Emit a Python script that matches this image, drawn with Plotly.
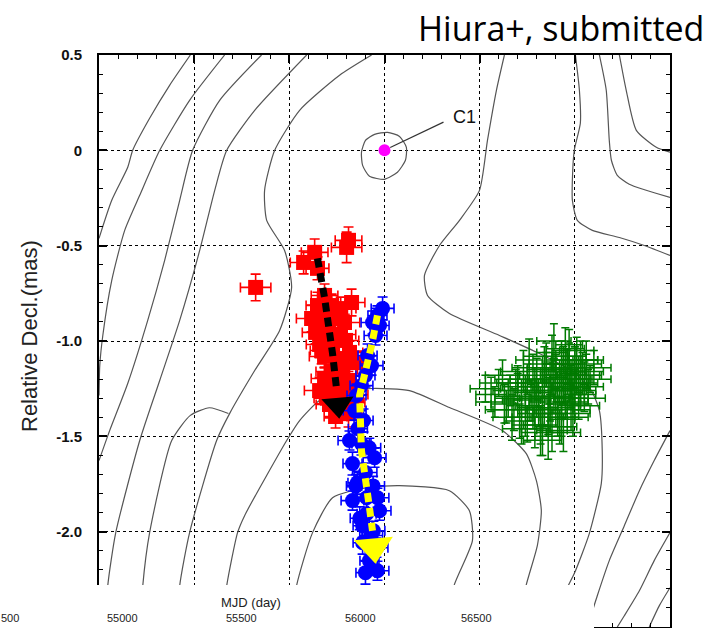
import plotly.graph_objects as go

# ---------------- data (mas) ----------------
red_x = [-0.677, -0.425, -0.367, -0.352, -0.199, -0.189, -0.173,
         -0.315, -0.352, -0.278, -0.383, -0.320, -0.257, -0.210, -0.362, -0.294, -0.231,
         -0.341, -0.273, -0.205, -0.315, -0.247, -0.184, -0.220, -0.142,
         -0.315, -0.247, -0.184, -0.341, -0.273, -0.205, -0.147, -0.289, -0.236, -0.173, -0.257, -0.189,
         -0.300, -0.230, -0.330, -0.190, -0.280, -0.300, -0.200, -0.260]
red_y = [-0.719, -0.588, -0.535, -0.619, -0.509, -0.472, -0.798,
         -0.761, -0.814, -0.814, -0.882, -0.882, -0.882, -0.903, -0.955, -0.945, -0.966,
         -1.018, -1.029, -0.997, -1.081, -1.092, -1.060, -1.144, -1.113,
         -1.197, -1.176, -1.207, -1.260, -1.270, -1.260, -1.281, -1.333, -1.344, -1.323, -1.396, -1.381,
         -0.840, -0.830, -1.050, -1.100, -1.160, -1.300, -1.340, -1.230]
red_ex = [0.08, 0.07, 0.07, 0.06, 0.08, 0.07, 0.07,
          0.07, 0.06, 0.07, 0.08, 0.06, 0.07, 0.08, 0.07, 0.06, 0.08,
          0.07, 0.06, 0.07, 0.08, 0.06, 0.07, 0.07, 0.06,
          0.07, 0.06, 0.07, 0.08, 0.06, 0.07, 0.06, 0.07, 0.06, 0.07, 0.06, 0.07,
          0.07, 0.08, 0.06, 0.07, 0.08, 0.07, 0.06, 0.07]
red_ey = [0.07, 0.06, 0.07, 0.06, 0.08, 0.07, 0.07,
          0.06, 0.07, 0.06, 0.07, 0.08, 0.06, 0.07, 0.06, 0.07, 0.06,
          0.07, 0.06, 0.07, 0.06, 0.07, 0.06, 0.07, 0.06,
          0.06, 0.07, 0.06, 0.07, 0.06, 0.07, 0.06, 0.07, 0.06, 0.07, 0.06, 0.07,
          0.07, 0.06, 0.07, 0.06, 0.07, 0.06, 0.07, 0.06]

blue_x = [-0.010, -0.037, -0.063, -0.026, -0.047, -0.089, -0.068, -0.100, -0.121, -0.147,
          -0.157, -0.110, -0.184, -0.121, -0.052, -0.168, -0.100, -0.142, -0.168, -0.094,
          -0.037, -0.094, -0.026, -0.115, -0.058, -0.115, -0.042, -0.079, -0.037, -0.100,
          -0.140, -0.080, -0.150, -0.060, -0.130, -0.070]
blue_y = [-0.829, -0.866, -0.903, -0.919, -0.971, -1.076, -1.129, -1.181, -1.234, -1.286,
          -1.365, -1.417, -1.522, -1.538, -1.612, -1.643, -1.690, -1.743, -1.837, -1.822,
          -1.822, -1.906, -1.890, -1.969, -1.995, -2.058, -2.084, -2.152, -2.205, -2.215,
          -1.460, -1.560, -1.760, -1.760, -1.930, -2.020]
blue_ex = [0.06, 0.05, 0.06, 0.05, 0.06, 0.05, 0.06, 0.05, 0.06, 0.05,
           0.06, 0.05, 0.06, 0.05, 0.06, 0.05, 0.06, 0.05, 0.06, 0.05,
           0.06, 0.05, 0.06, 0.05, 0.06, 0.05, 0.06, 0.05, 0.06, 0.05,
           0.05, 0.06, 0.05, 0.06, 0.05, 0.06]
blue_ey = [0.06, 0.05, 0.06, 0.05, 0.05, 0.06, 0.05, 0.06, 0.05, 0.06,
           0.05, 0.06, 0.05, 0.06, 0.05, 0.06, 0.05, 0.06, 0.05, 0.06,
           0.05, 0.06, 0.05, 0.06, 0.05, 0.06, 0.05, 0.06, 0.05, 0.06,
           0.06, 0.05, 0.06, 0.05, 0.06, 0.05]

green_x = [0.56, 0.60, 0.63, 0.66, 0.68, 0.70, 0.72, 0.74, 0.75, 0.77, 0.78, 0.80, 0.81, 0.82,
           0.83, 0.84, 0.85, 0.86, 0.87, 0.88, 0.88, 0.89, 0.90, 0.90, 0.91, 0.92, 0.93, 0.93,
           0.94, 0.95, 0.95, 0.96, 0.97, 0.97, 0.98, 0.99, 1.00, 1.00, 1.01, 1.02, 1.03, 1.04,
           1.05, 1.06, 1.08, 0.79, 0.83, 0.86, 0.92, 0.96, 0.99, 0.72, 0.76, 0.89, 1.02,
           0.62, 0.65, 0.69, 0.71, 0.73, 0.76, 0.79, 0.81, 0.84, 0.87, 0.89, 0.91, 0.94, 0.96,
           0.98, 1.01, 1.03, 1.05, 1.07, 0.67, 0.74, 0.80, 0.85, 0.90, 0.95, 1.00, 1.04, 0.78,
           0.88, 0.93, 0.97, 1.02, 0.70, 0.83, 0.87, 0.99, 1.06, 0.64, 0.75, 0.82, 0.92, 0.94,
           1.00, 0.86, 0.98, 0.53, 0.58, 1.10]
green_y = [-1.28, -1.22, -1.33, -1.26, -1.36, -1.24, -1.31, -1.40, -1.20, -1.29, -1.35, -1.18,
           -1.27, -1.44, -1.22, -1.32, -1.15, -1.26, -1.38, -1.20, -1.47, -1.29, -1.12, -1.35,
           -1.24, -1.18, -1.30, -1.41, -1.10, -1.22, -1.33, -1.16, -1.26, -1.08, -1.20, -1.30,
           -1.14, -1.24, -1.05, -1.18, -1.28, -1.12, -1.22, -1.16, -1.20, -1.46, -1.52, -1.50,
           -1.45, -1.38, -1.40, -1.46, -1.10, -1.00, -1.34,
           -1.18, -1.30, -1.22, -1.42, -1.16, -1.34, -1.24, -1.38, -1.12, -1.30, -1.18, -1.40,
           -1.26, -1.14, -1.36, -1.20, -1.10, -1.30, -1.24, -1.40, -1.26, -1.30, -1.08, -1.16,
           -1.04, -1.32, -1.18, -1.14, -1.06, -1.12, -1.02, -1.26, -1.20, -1.36, -1.22, -1.16,
           -1.10, -1.36, -1.44, -1.48, -1.22, -1.48, -1.10, -1.40, -1.24, -1.25, -1.32, -1.14]
green_ex = [0.08, 0.10, 0.07, 0.09, 0.11, 0.08, 0.10, 0.07, 0.09, 0.12, 0.08, 0.10, 0.07, 0.09,
            0.11, 0.08, 0.10, 0.07, 0.09, 0.12, 0.08, 0.10, 0.07, 0.09, 0.11, 0.08, 0.10, 0.07,
            0.09, 0.12, 0.08, 0.10, 0.07, 0.09, 0.11, 0.08, 0.10, 0.07, 0.09, 0.12, 0.08, 0.10,
            0.07, 0.09, 0.11, 0.08, 0.10, 0.07, 0.09, 0.12, 0.08, 0.10, 0.07, 0.09, 0.11,
            0.09, 0.07, 0.10, 0.08, 0.12, 0.07, 0.09, 0.11, 0.08, 0.10, 0.07, 0.09, 0.12, 0.08,
            0.10, 0.07, 0.09, 0.11, 0.08, 0.10, 0.07, 0.09, 0.12, 0.08, 0.10, 0.07, 0.09, 0.11,
            0.08, 0.10, 0.07, 0.09, 0.12, 0.08, 0.10, 0.07, 0.09, 0.11, 0.08, 0.10, 0.07, 0.09,
            0.12, 0.08, 0.10, 0.08, 0.10, 0.09]
green_ey = [0.09, 0.07, 0.10, 0.08, 0.11, 0.07, 0.09, 0.10, 0.08, 0.06, 0.11, 0.09, 0.07, 0.10,
            0.08, 0.12, 0.09, 0.07, 0.10, 0.08, 0.11, 0.09, 0.07, 0.10, 0.08, 0.06, 0.11, 0.09,
            0.07, 0.10, 0.08, 0.12, 0.09, 0.07, 0.10, 0.08, 0.11, 0.09, 0.07, 0.10, 0.08, 0.06,
            0.11, 0.09, 0.07, 0.10, 0.08, 0.12, 0.09, 0.07, 0.10, 0.08, 0.11, 0.09, 0.07,
            0.08, 0.10, 0.07, 0.09, 0.11, 0.08, 0.10, 0.07, 0.09, 0.12, 0.08, 0.10, 0.07, 0.09,
            0.11, 0.08, 0.10, 0.07, 0.09, 0.12, 0.08, 0.10, 0.07, 0.09, 0.11, 0.08, 0.10, 0.07,
            0.09, 0.12, 0.08, 0.10, 0.07, 0.09, 0.11, 0.08, 0.10, 0.07, 0.09, 0.12, 0.08, 0.10,
            0.07, 0.09, 0.11, 0.07, 0.08, 0.09]

# motion arrows (mas)
black_arrow_x = [-0.352, -0.315, -0.273, -0.252]
black_arrow_y = [-0.567, -0.772, -1.066, -1.250]
black_head = (-0.244, -1.335)
yellow_arrow_x = [-0.037, -0.068, -0.131, -0.121, -0.079, -0.063]
yellow_arrow_y = [-0.866, -1.024, -1.286, -1.575, -1.874, -1.995]
yellow_head = (-0.055, -2.080)

c1_pos = (0.0, 0.0)
c1_label_pos = (0.42, 0.175)
c1_leader_x = [0.03, 0.31]
c1_leader_y = [0.015, 0.148]

# contour lines (mas)
contours = {
    "A": ([-1.50, -1.433, -1.349, -1.323, -1.234, -1.129, -1.02],
          [-0.462, -0.262, -0.089, 0.0, 0.168, 0.341, 0.5]),
    "B": ([-1.50, -1.496, -1.480, -1.433, -1.365, -1.286, -1.181, -1.024, -0.840],
          [-1.286, -1.129, -0.971, -0.682, -0.420, -0.236, 0.0, 0.262, 0.5]),
    "C": ([-1.50, -1.444, -1.349, -1.244, -1.155, -1.076, -1.008, -0.866, -0.646],
          [-1.627, -1.470, -1.223, -0.892, -0.577, -0.262, 0.0, 0.262, 0.5]),
    "D": ([-1.465, -1.454, -1.412, -1.286, -1.181, -1.076, -0.971, -0.892, -0.829, -0.682, -0.409],
          [-2.5, -2.283, -2.005, -1.522, -1.207, -0.892, -0.525, -0.210, 0.0, 0.210, 0.5]),
    "D2": ([-1.281, -1.270, -1.234, -1.118, -1.020, -0.920, -0.820],
           [-2.5, -2.283, -2.005, -1.522, -1.390, -1.350, -1.380]),
    "E": ([-1.087, -1.076, -1.024, -0.882, -0.814, -0.682, -0.551, -0.488, -0.525, -0.619, -0.630,
           -0.577, -0.446, -0.236, -0.068],
          [-2.5, -2.283, -2.005, -1.522, -1.381, -1.155, -0.945, -0.719, -0.525, -0.367, -0.210,
           0.0, 0.210, 0.394, 0.5]),
    "F": ([-0.856, -0.829, -0.772, -0.735, -0.514, -0.446, -0.341, -0.184, -0.063, 0.131, 0.341,
           0.619, 0.745, 0.798, 0.824, 0.803, 0.745, 0.698],
          [-2.5, -2.283, -2.005, -1.916, -1.522, -1.417, -1.312, -1.260, -1.249, -1.260, -1.349,
           -1.470, -1.591, -1.732, -1.890, -2.073, -2.278, -2.5]),
    "G": ([-0.488, -0.462, -0.378, -0.273, -0.094, 0.079, 0.341, 0.446, 0.462, 0.367, 0.315],
          [-2.5, -2.283, -2.005, -1.822, -1.769, -1.759, -1.785, -1.890, -2.047, -2.278, -2.5]),
    "H": ([0.630, 0.588, 0.541, 0.499, 0.394, 0.289, 0.210, 0.226, 0.341, 0.604, 0.814, 0.997,
           1.087, 1.129, 1.144, 1.139, 1.076, 0.997, 0.934, 0.882],
          [0.5, 0.315, 0.052, -0.210, -0.367, -0.499, -0.656, -0.761, -0.856, -0.971, -1.066,
           -1.165, -1.260, -1.365, -1.575, -1.748, -2.010, -2.220, -2.346, -2.5]),
    "R1": ([1.003, 1.024, 1.029, 0.997, 0.987, 0.987, 1.013, 1.092, 1.234, 1.365, 1.5],
           [0.5, 0.315, 0.142, 0.0, -0.157, -0.262, -0.367, -0.420, -0.457, -0.499, -0.551]),
    "R2": ([1.129, 1.165, 1.181, 1.192, 1.223, 1.286, 1.5],
           [0.5, 0.315, 0.052, -0.052, -0.131, -0.178, -0.247]),
    "R3": ([1.234, 1.270, 1.323, 1.428, 1.5],
           [0.5, 0.315, 0.105, 0.016, -0.010]),
    "BR1": ([1.5, 1.417, 1.339, 1.260, 1.181, 1.118, 1.066],
            [-1.470, -1.627, -1.785, -1.969, -2.152, -2.336, -2.5]),
    "BR2": ([1.5, 1.417, 1.339, 1.260, 1.223],
            [-2.005, -2.152, -2.310, -2.441, -2.5]),
    "BR3": ([1.5, 1.444, 1.391],
            [-2.294, -2.388, -2.5]),
    "C1": ([-0.121, -0.100, -0.052, 0.016, 0.079, 0.115, 0.110, 0.068, 0.0, -0.079, -0.115, -0.121],
           [-0.010, 0.052, 0.084, 0.094, 0.073, 0.016, -0.052, -0.115, -0.152, -0.136, -0.079, -0.010]),
}

y_tickvals = [0.5, 0.0, -0.5, -1.0, -1.5, -2.0]
y_ticktext = ["0.5", "0", "-0.5", "-1.0", "-1.5", "-2.0"]
strip_ticklabels = ["500", "55000", "55500", "56000", "56500"]
strip_title = "MJD (day)"
y_title = "Relative Decl.(mas)"
credit = "Hiura+, submitted"

# ---------------- figure ----------------
W, H = 712, 628
L, R, T, B = 99, 42, 55, 1
PW, PH = W - L - R, H - T - B


def px(xp):
    return (xp - L) / PW


def py(yp):
    return (H - B - yp) / PH


fig = go.Figure()

for name, (cx, cy) in contours.items():
    fig.add_trace(go.Scatter(x=cx, y=cy, mode="lines",
                             line=dict(color="#555555", width=1.2, shape="spline", smoothing=0.6),
                             hoverinfo="skip", showlegend=False))

fig.add_trace(go.Scatter(x=c1_leader_x, y=c1_leader_y, mode="lines",
                         line=dict(color="#333333", width=1.2), showlegend=False))

fig.add_trace(go.Scatter(
    x=green_x, y=green_y, mode="markers",
    marker=dict(color="#007a00", size=2),
    error_x=dict(type="data", array=green_ex, color="#007a00", thickness=1.5, width=4),
    error_y=dict(type="data", array=green_ey, color="#007a00", thickness=1.5, width=4),
    showlegend=False))

fig.add_trace(go.Scatter(
    x=red_x, y=red_y, mode="markers",
    marker=dict(color="#ff0000", size=15, symbol="square"),
    error_x=dict(type="data", array=red_ex, color="#ff0000", thickness=1.6, width=5),
    error_y=dict(type="data", array=red_ey, color="#ff0000", thickness=1.6, width=5),
    showlegend=False))

fig.add_trace(go.Scatter(
    x=blue_x, y=blue_y, mode="markers",
    marker=dict(color="#0000ff", size=15, symbol="circle"),
    error_x=dict(type="data", array=blue_ex, color="#0000ff", thickness=1.6, width=5),
    error_y=dict(type="data", array=blue_ey, color="#0000ff", thickness=1.6, width=5),
    showlegend=False))

fig.add_trace(go.Scatter(x=black_arrow_x, y=black_arrow_y, mode="lines",
                         line=dict(color="black", width=7, dash="9px,6px"), showlegend=False))
fig.add_trace(go.Scatter(x=[black_head[0]], y=[black_head[1]], mode="markers",
                         marker=dict(symbol="triangle-down", size=28, color="black", angle=-5),
                         showlegend=False))
fig.add_trace(go.Scatter(x=yellow_arrow_x, y=yellow_arrow_y, mode="lines",
                         line=dict(color="#ffff00", width=7, dash="9px,6px"), showlegend=False))
fig.add_trace(go.Scatter(x=[yellow_head[0]], y=[yellow_head[1]], mode="markers",
                         marker=dict(symbol="triangle-down", size=34, color="#ffff00", angle=-5),
                         showlegend=False))

fig.add_trace(go.Scatter(x=[c1_pos[0]], y=[c1_pos[1]], mode="markers",
                         marker=dict(color="#ff00ff", size=12), showlegend=False))

fig.add_annotation(x=c1_label_pos[0], y=c1_label_pos[1], text="C1", showarrow=False,
                   xanchor="center", yanchor="middle",
                   font=dict(family="Liberation Sans, Arial", size=18, color="#111111"))

axis_common = dict(
    showline=True, linecolor="black", linewidth=2, mirror="allticks",
    ticks="inside", ticklen=8, tickwidth=2, tickcolor="black",
    showgrid=True, gridcolor="black", griddash="dot", gridwidth=1.3,
    zeroline=False,
    minor=dict(ticks="inside", ticklen=4, tickwidth=1, tickcolor="black", dtick=0.1, showgrid=False),
)

fig.update_xaxes(range=[-1.5, 1.5], dtick=0.5, tick0=0, showticklabels=False, **axis_common)
fig.update_yaxes(range=[-2.5, 0.5], tickvals=y_tickvals, ticktext=y_ticktext,
                 tickfont=dict(family="Liberation Sans, Arial", size=15, color="#111111", weight="bold"),
                 ticklabelstandoff=12, **axis_common)

fig.update_layout(
    width=W, height=H, margin=dict(l=L, r=R, t=T, b=B),
    plot_bgcolor="white", paper_bgcolor="white", showlegend=False,
)

# overlaid strip (from a different panel) covering the bottom-left
fig.add_shape(type="rect", xref="paper", yref="paper", x0=px(-5), x1=px(594), y0=py(630), y1=py(585),
              fillcolor="white", line=dict(width=0), layer="above")
strip_label_px = [10, 122, 241, 360, 476]
for lab, xp in zip(strip_ticklabels, strip_label_px):
    fig.add_annotation(xref="paper", yref="paper", x=px(xp), y=py(618), text=lab, showarrow=False,
                       xanchor="center", yanchor="middle",
                       font=dict(family="Liberation Sans Narrow, Liberation Sans, Arial", size=11, color="#222222"))
fig.add_annotation(xref="paper", yref="paper", x=px(251), y=py(602), text=strip_title, showarrow=False,
                   xanchor="center", yanchor="middle",
                   font=dict(family="Liberation Sans Narrow, Liberation Sans, Arial", size=13, color="#222222"))

fig.add_annotation(xref="paper", yref="paper", x=px(29), y=py(336), text=y_title, showarrow=False,
                   textangle=-90, xanchor="center", yanchor="middle",
                   font=dict(family="Liberation Sans, Arial", size=22, color="#222222"))

fig.add_annotation(xref="paper", yref="paper", x=px(706), y=py(28), text=credit, showarrow=False,
                   xanchor="right", yanchor="middle",
                   font=dict(family="Open Sans", size=34, color="black"))

fig.write_html("out.html")
